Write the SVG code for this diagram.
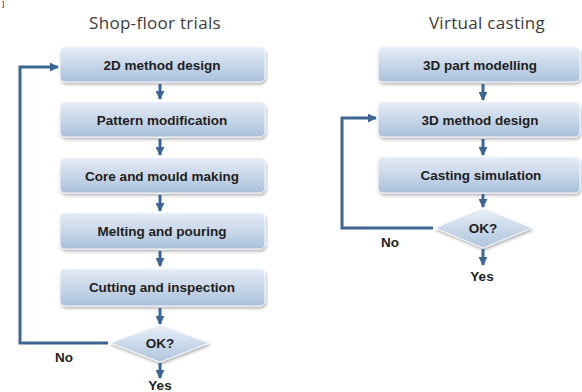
<svg xmlns="http://www.w3.org/2000/svg" width="582" height="392" viewBox="0 0 582 392">
  <defs>
    <linearGradient id="boxFill" x1="0" y1="0" x2="0" y2="1">
      <stop offset="0" stop-color="#e4ecf6"/>
      <stop offset="0.45" stop-color="#cbd9ea"/>
      <stop offset="1" stop-color="#a9c0db"/>
    </linearGradient>
    <linearGradient id="diaFill" x1="0" y1="0" x2="0" y2="1">
      <stop offset="0" stop-color="#e9f0f8"/>
      <stop offset="0.5" stop-color="#cbd9ea"/>
      <stop offset="1" stop-color="#b0c5de"/>
    </linearGradient>
    <filter id="soft" x="-10%" y="-20%" width="120%" height="150%">
      <feGaussianBlur in="SourceAlpha" stdDeviation="1.5"/>
      <feOffset dx="1" dy="2"/>
      <feComponentTransfer><feFuncA type="linear" slope="0.3"/></feComponentTransfer>
      <feMerge><feMergeNode/><feMergeNode in="SourceGraphic"/></feMerge>
    </filter>
    <marker id="head" viewBox="0 0 10 10" refX="9" refY="5" markerWidth="3" markerHeight="3" orient="auto" markerUnits="strokeWidth">
      <path d="M0,0 L10,5 L0,10 Z" fill="#3d6593"/>
    </marker>
  </defs>
  <style>
    .box { fill: url(#boxFill); stroke: #f4f7fb; stroke-width: 1; filter: url(#soft); }
    .dia { fill: url(#diaFill); stroke: #f4f7fb; stroke-width: 1; filter: url(#soft); }
    .lbl { font-family: "Liberation Sans", Arial, sans-serif; font-weight: bold; font-size: 13.5px; fill: #1e1e1e; text-anchor: middle; }
    .ttl { font-family: "Open Sans", "Liberation Sans", sans-serif; font-size: 17px; letter-spacing: 0.3px; fill: #3c3c3c; text-anchor: middle; }
    .step { stroke: #3d6593; stroke-width: 3; fill: none; marker-end: url(#head); }
    .loop { stroke: #3d6593; stroke-width: 3; fill: none; marker-end: url(#head); }
  </style>

  <rect width="582" height="392" fill="#ffffff"/>
  <text x="2" y="6" font-family="Liberation Sans, sans-serif" font-size="8" fill="#222">]</text>

  <text class="ttl" x="155" y="29">Shop-floor trials</text>
  <text class="ttl" x="487" y="29">Virtual casting</text>

  <!-- left column: shop-floor trials -->
  <g id="n-2d-method">
    <rect class="box" x="60" y="47" width="205" height="35" rx="5"/>
    <text class="lbl" x="162" y="69.5">2D method design</text>
  </g>
  <g id="n-pattern">
    <rect class="box" x="60" y="102" width="205" height="35" rx="5"/>
    <text class="lbl" x="162" y="124.5">Pattern modification</text>
  </g>
  <g id="n-core-mould">
    <rect class="box" x="60" y="158" width="205" height="35" rx="5"/>
    <text class="lbl" x="162" y="180.5">Core and mould making</text>
  </g>
  <g id="n-melting">
    <rect class="box" x="60" y="213" width="205" height="36" rx="5"/>
    <text class="lbl" x="162" y="236">Melting and pouring</text>
  </g>
  <g id="n-cutting">
    <rect class="box" x="60" y="269" width="205" height="37" rx="5"/>
    <text class="lbl" x="162" y="292">Cutting and inspection</text>
  </g>
  <g id="n-ok-left">
    <polygon class="dia" points="160,325 209,343 160,362 110,343"/>
    <text class="lbl" x="160" y="348">OK?</text>
  </g>

  <!-- right column: virtual casting -->
  <g id="n-3d-part">
    <rect class="box" x="378" y="47" width="202" height="35" rx="5"/>
    <text class="lbl" x="480" y="69.5">3D part modelling</text>
  </g>
  <g id="n-3d-method">
    <rect class="box" x="378" y="102" width="202" height="35" rx="5"/>
    <text class="lbl" x="480" y="124.5">3D method design</text>
  </g>
  <g id="n-simulation">
    <rect class="box" x="378" y="157" width="202" height="36" rx="5"/>
    <text class="lbl" x="481" y="179.5">Casting simulation</text>
  </g>
  <g id="n-ok-right">
    <polygon class="dia" points="483,208 532,228 483,248 435,228"/>
    <text class="lbl" x="483" y="233">OK?</text>
  </g>

  <!-- connectors -->
  <g id="connectors">
    <line class="step" x1="160" y1="84" x2="160" y2="99"/>
    <line class="step" x1="160" y1="139" x2="160" y2="155"/>
    <line class="step" x1="160" y1="195" x2="160" y2="211"/>
    <line class="step" x1="160" y1="251" x2="160" y2="266"/>
    <line class="step" x1="160" y1="308" x2="160" y2="324"/>
    <line class="step" x1="160" y1="363" x2="160" y2="378"/>
    <polyline class="loop" points="108,343 20,343 20,67 58,67"/>

    <line class="step" x1="483" y1="84" x2="483" y2="100"/>
    <line class="step" x1="483" y1="139" x2="483" y2="155"/>
    <line class="step" x1="483" y1="194" x2="483" y2="207"/>
    <line class="step" x1="483" y1="249" x2="483" y2="265"/>
    <polyline class="loop" points="433,228 342,228 342,118 376,118"/>
  </g>

  <text class="lbl" x="64" y="362">No</text>
  <text class="lbl" x="160" y="390">Yes</text>
  <text class="lbl" x="390" y="247">No</text>
  <text class="lbl" x="482" y="281">Yes</text>
</svg>
